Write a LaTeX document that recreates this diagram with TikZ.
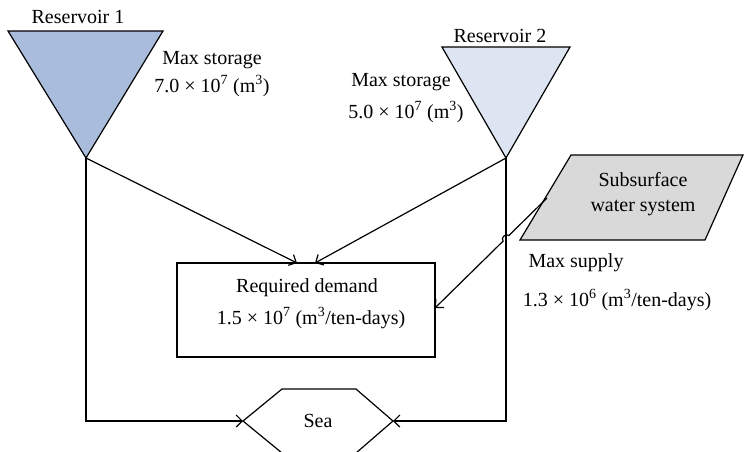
\documentclass[tikz,border=0pt]{standalone}
\usepackage{fontspec}
\setmainfont{Liberation Serif}
\usetikzlibrary{arrows.meta}
\definecolor{resA}{HTML}{A9BCDB}
\definecolor{resB}{HTML}{DCE5F1}
\definecolor{subg}{HTML}{D9D9D9}
\tikzset{
  lbl/.style={inner sep=0pt, font=\fontsize{20}{24}\selectfont},
  flow/.style={line width=1.2pt, -{Straight Barb[length=6pt,width=12pt,line width=1.2pt]}},
  shp/.style={line width=1.2pt, draw=black},
}
\newcommand{\sx}[1]{\textsuperscript{#1}}
\begin{document}
\begin{tikzpicture}[x=1pt,y=-1pt]
\useasboundingbox (0,0) rectangle (745,451);
% Reservoir 1
\coordinate (r1a) at (8,31);
\coordinate (r1b) at (163,31);
\coordinate (r1) at (86,158);
\fill[resA] (r1a) -- (r1b) -- (r1) -- cycle;
\draw[shp] (r1a) -- (r1b) -- (r1) -- cycle;
\node[lbl] (r1t) at (78,17) {Reservoir 1};
\node[lbl, align=center, font=\fontsize{20}{28}\selectfont] (r1s) at (212,74) {Max storage\\7.0 × 10\sx{7} (m\sx{3})};
% Reservoir 2
\coordinate (r2a) at (442,47);
\coordinate (r2b) at (570,47);
\coordinate (r2) at (506,158);
\fill[resB] (r2a) -- (r2b) -- (r2) -- cycle;
\draw[shp] (r2a) -- (r2b) -- (r2) -- cycle;
\node[lbl] (r2t) at (500,36) {Reservoir 2};
\node[lbl] (r2s1) at (401,82) {Max storage};
\node[lbl] (r2s2) at (406,112) {5.0 × 10\sx{7} (m\sx{3})};
% Subsurface
\coordinate (s1) at (571,155);
\coordinate (s2) at (743,155);
\coordinate (s3) at (705,240);
\coordinate (s4) at (520,240);
\fill[subg] (s1) -- (s2) -- (s3) -- (s4) -- cycle;
\draw[shp] (s1) -- (s2) -- (s3) -- (s4) -- cycle;
\node[lbl] (sub1) at (643,180) {Subsurface};
\node[lbl] (sub2) at (643,208) {water system};
\node[lbl] (ms1) at (576,263) {Max supply};
\node[lbl] (ms2) at (617,300) {1.3 × 10\sx{6} (m\sx{3}/ten-days)};
% Demand
\node[draw, line width=1.2pt, minimum width=258pt, minimum height=94pt, inner sep=0pt] (dem) at (306,310) {};
\node[lbl] (dem1) at (307,288) {Required demand};
\node[lbl] (dem2) at (311,318) {1.5 × 10\sx{7} (m\sx{3}/ten-days)};
\coordinate (d1) at (297,263);
\coordinate (d2) at (315,263);
\coordinate (d3) at (435,308);
% Sea
\coordinate (seaL) at (243,421);
\coordinate (seaR) at (393,421);
\draw[shp] (seaL) -- (282,389) -- (356,389) -- (seaR) -- (356,453) -- (282,453) -- cycle;
\node[lbl] (sea) at (318,421) {Sea};
% flows
\draw[flow] (r1) -- (d1);
\draw[flow] (r2) -- (d2);
\coordinate (ss) at (547,198);
\coordinate (h1) at (508.9,235.5);
\coordinate (h2) at (503.1,241.1);
\draw[flow] (ss) -- (h1) to[bend right=90, looseness=1.3] (h2) -- (d3);
\draw[flow] (r1) -- (86,421) -- (seaL);
\draw[flow] (r2) -- (506,421) -- (seaR);
\end{tikzpicture}
\end{document}
